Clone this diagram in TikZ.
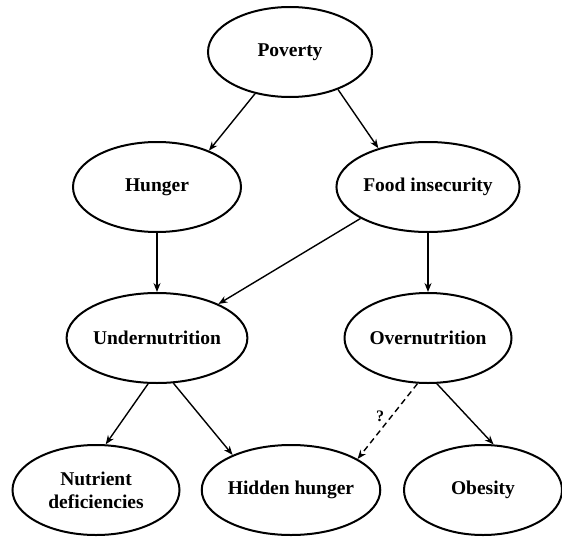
\documentclass[tikz,border=0pt]{standalone}
\usepackage{fontspec}
\setmainfont{Liberation Serif}
\usetikzlibrary{shapes.geometric,arrows.meta}
\begin{document}
\begin{tikzpicture}[x=1pt,y=-1pt,
  oval/.style={ellipse,draw=black,line width=2pt,minimum width=166pt,minimum height=90pt,inner sep=0pt,
    font=\fontsize{19.5}{23}\selectfont\bfseries,align=center},
  conn/.style={line width=1.4pt,-{Stealth[length=9pt,width=7pt]}},
  dashconn/.style={conn,dash pattern=on 6pt off 4pt}]
\useasboundingbox (0,0) rectangle (562,538);
\node[oval,minimum width=164pt] (pov) at (290,52) {Poverty};
\node[oval,minimum width=168pt] (hun) at (157,187) {Hunger};
\node[oval,minimum width=167pt] (food) at (428,187) {Food insecurity};
\node[oval,minimum width=167pt] (under) at (157,338) {Undernutrition};
\node[oval,minimum width=167pt] (over) at (428,338) {Overnutrition};
\node[oval,minimum width=167pt] (nut) at (96,490) {Nutrient\\deficiencies};
\node[oval,minimum width=162pt] (hid) at (291,490) {Hidden hunger};
\node[oval,minimum width=158pt] (obe) at (483,490) {Obesity};
\draw[conn] (pov.230) -- (hun.35);
\draw[conn] (pov.322) -- (food.142);
\draw[conn] (hun.south) -- (under.north);
\draw[conn] (food.205) -- (under.29);
\draw[conn] (food.south) -- (over.north);
\draw[conn] (under.259) -- (nut.78);
\draw[conn] (under.290) -- (hid.149);
\draw[dashconn] (over.257) -- node[pos=0.44,left=3pt,font=\fontsize{16}{16}\selectfont\bfseries] {?} (hid.25);
\draw[conn] (over.281) -- (obe.77);
\end{tikzpicture}
\end{document}
